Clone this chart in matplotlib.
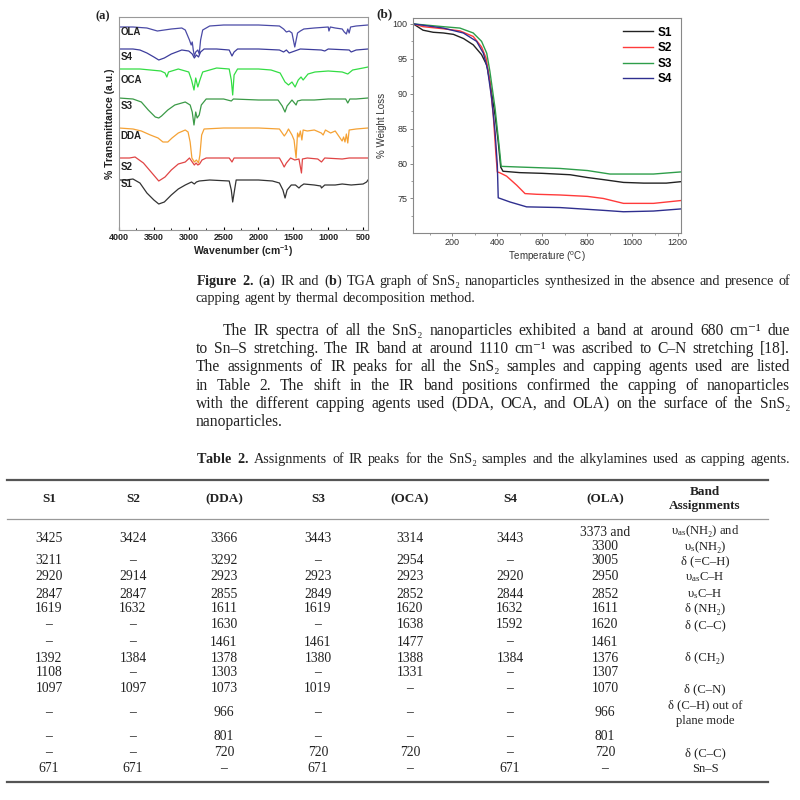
from __future__ import annotations

import matplotlib

matplotlib.use("Agg")
import matplotlib.pyplot as plt
from matplotlib.ticker import MultipleLocator

SERIF = "Liberation Serif"
SANS = "Liberation Sans"
INK = "#222222"

plt.rcParams["mathtext.fontset"] = "custom"
plt.rcParams["mathtext.rm"] = SERIF
plt.rcParams["mathtext.bf"] = SERIF + ":bold"
plt.rcParams["mathtext.it"] = SERIF + ":italic"
plt.rcParams["mathtext.default"] = "regular"

# ---- (a) IR spectra, stacked traces in arbitrary units ----
IR_OLA_WN = [4000, 3800, 3600, 3450, 3350, 3250, 3100, 3050, 3020, 2990, 2965, 2950, 2935, 2920, 2900,
             2870, 2850, 2830, 2800, 2700, 2500, 2000, 1700, 1640, 1600, 1560, 1520, 1500, 1480, 1460,
             1440, 1400, 1350, 1200, 1000, 990, 970, 900, 800, 770, 740, 720, 700, 680, 600, 430]
IR_OLA_T = [203, 203, 202, 199, 200, 201, 202, 200, 195, 190, 185, 188, 180, 174, 178,
            180, 176, 190, 200, 204, 205, 205, 204, 201, 198, 199, 197, 190, 183, 190,
            197, 199, 201, 202, 203, 199, 203, 202, 201, 198, 196, 201, 197, 203, 204, 205]

IR_S4_WN = [4000, 3800, 3700, 3600, 3500, 3430, 3350, 3250, 3100, 3000, 2950, 2920, 2890, 2860, 2830,
            2780, 2600, 2420, 2380, 2350, 2300, 2000, 1700, 1640, 1600, 1560, 1480, 1400, 1100, 1050,
            1000, 700, 671, 600, 430]
IR_S4_T = [181, 181, 180, 177, 173, 170, 172, 176, 180, 179, 176, 172, 175, 173, 178,
           181, 181, 180, 174, 178, 181, 181, 180, 178, 180, 177, 179, 181, 180, 179,
           181, 180, 178, 180, 181]

IR_OCA_WN = [4000, 3700, 3400, 3340, 3314, 3290, 3150, 3000, 2960, 2925, 2900, 2870, 2840, 2800, 2600,
             2420, 2390, 2370, 2350, 2300, 2000, 1820, 1690, 1620, 1570, 1520, 1475, 1430, 1390, 1360,
             1290, 1190, 1000, 800, 720, 650, 500, 430]
IR_OCA_T = [161, 161, 159, 157, 153, 158, 161, 158, 150, 140, 152, 143, 150, 158, 162,
            161, 150, 135, 155, 161, 161, 160, 157, 148, 145, 148, 143, 150, 153, 150,
            156, 158, 159, 158, 156, 160, 162, 163]

IR_S3_WN = [4000, 3800, 3680, 3580, 3480, 3430, 3390, 3300, 3200, 3050, 2980, 2950, 2925, 2900, 2880,
            2850, 2820, 2750, 2500, 2390, 2360, 2000, 1720, 1660, 1620, 1590, 1520, 1461, 1440, 1380,
            1200, 1000, 750, 720, 690, 600, 430]
IR_S3_T = [132, 131, 128, 120, 113, 112, 114, 120, 125, 128, 125, 118, 105, 118, 112,
           115, 125, 131, 131, 129, 131, 130, 130, 124, 118, 124, 130, 125, 129, 130,
           130, 131, 131, 127, 131, 131, 132]

IR_DDA_WN = [4000, 3800, 3680, 3550, 3440, 3370, 3300, 3240, 3150, 3050, 3010, 2980, 2955, 2920, 2890,
             2860, 2840, 2815, 2780, 2500, 2000, 1700, 1670, 1630, 1600, 1570, 1520, 1490, 1461, 1440,
             1420, 1400, 1378, 1360, 1300, 1200, 1100, 1073, 1040, 966, 900, 850, 801, 780, 760,
             740, 720, 700, 600, 430]
IR_DDA_T = [102, 101, 99, 95, 92, 88, 88, 92, 97, 100, 98, 88, 72, 68, 70,
            67, 75, 95, 101, 102, 102, 101, 98, 94, 97, 101, 95, 90, 72, 97,
            93, 99, 90, 100, 99, 100, 97, 95, 100, 97, 99, 94, 89, 93, 88,
            96, 87, 100, 101, 102]

IR_S2_WN = [4000, 3850, 3770, 3650, 3540, 3430, 3340, 3250, 3150, 3050, 2990, 2950, 2920, 2895, 2870,
            2845, 2810, 2750, 2420, 2380, 2350, 2000, 1700, 1660, 1632, 1600, 1540, 1480, 1420, 1384,
            1370, 1300, 1150, 1097, 1050, 800, 700, 430]
IR_S2_T = [72, 72, 73, 67, 58, 49, 53, 60, 66, 68, 72, 68, 65, 67, 65,
           66, 70, 72, 72, 68, 72, 72, 72, 67, 63, 67, 72, 70, 71, 57,
           71, 72, 71, 68, 72, 71, 72, 72]

IR_S1_WN = [4000, 3900, 3800, 3700, 3600, 3500, 3430, 3350, 3250, 3150, 3050, 2960, 2920, 2890, 2850,
            2700, 2420, 2390, 2370, 2350, 2320, 2000, 1800, 1700, 1650, 1619, 1590, 1530, 1470, 1420,
            1392, 1350, 1200, 1108, 1097, 1050, 900, 800, 671, 500, 450, 430]
IR_S1_T = [50, 50, 51, 47, 37, 30, 26, 28, 35, 41, 45, 48, 46, 48, 49,
           50, 49, 40, 28, 37, 50, 50, 49, 47, 40, 32, 40, 45, 45, 42,
           44, 46, 45, 44, 42, 45, 45, 46, 45, 46, 48, 50]

IR_TICKS = [4000, 3500, 3000, 2500, 2000, 1500, 1000, 500]

# ---- (b) TGA curves ----
TGA_S1_T = [27, 70, 115, 160, 205, 250, 293, 330, 353, 367, 390, 404, 415, 425, 500, 600, 723, 800,
            871, 960, 1050, 1150, 1213]
TGA_S1_W = [100, 99.1, 98.8, 98.7, 98.5, 97.9, 97.0, 95.6, 94.1, 91.7, 86.9, 83.1, 79.5, 78.9, 78.7,
            78.6, 78.4, 78.0, 77.7, 77.3, 77.2, 77.2, 77.4]
TGA_S2_T = [27, 70, 160, 234, 293, 330, 350, 367, 382, 394, 400, 410, 441, 486, 523, 575, 678, 800,
            871, 960, 1093, 1213]
TGA_S2_W = [100, 99.6, 99.3, 99.0, 98.2, 96.7, 95.1, 91.7, 86.9, 81.2, 78.8, 78.7, 78.2, 76.9, 75.7,
            75.6, 75.5, 75.3, 75.0, 74.3, 74.3, 74.7]
TGA_S3_T = [27, 160, 234, 293, 330, 353, 367, 390, 409, 417, 500, 678, 800, 900, 1093, 1213]
TGA_S3_W = [100, 99.6, 99.4, 98.7, 97.5, 95.8, 93.2, 87.9, 82.2, 79.6, 79.5, 79.3, 79.0, 78.5, 78.5, 78.8]
TGA_S4_T = [27, 160, 249, 308, 338, 356, 375, 390, 400, 404, 456, 530, 678, 871, 960, 1093, 1213]
TGA_S4_W = [100, 99.4, 98.7, 97.5, 95.8, 93.6, 89.3, 84.5, 79.8, 75.1, 74.5, 73.8, 73.7, 73.3, 73.1,
            73.2, 73.5]

# ---- text of the page ----
CAPTION_LINES = [
    r"$\mathbf{Figure}$ $\mathbf{2.}$ ($\mathbf{a}$) IR and ($\mathbf{b}$) TGA graph of SnS₂ nanoparticles "
    "synthesized in the absence and presence of",
    "capping agent by thermal decomposition method.",
]
PARAGRAPH_LINES = [
    "The IR spectra of all the SnS₂ nanoparticles exhibited a band at around 680 cm⁻¹ due",
    "to Sn–S stretching. The IR band at around 1110 cm⁻¹ was ascribed to C–N stretching [18].",
    "The assignments of IR peaks for all the SnS₂ samples and capping agents used are listed",
    "in Table 2. The shift in the IR band positions confirmed the capping of nanoparticles",
    "with the different capping agents used (DDA, OCA, and OLA) on the surface of the SnS₂",
    "nanoparticles.",
]
TABLE_CAPTION = (r"$\mathbf{Table}$ $\mathbf{2.}$ Assignments of IR peaks for the SnS₂ samples and "
                 "the alkylamines used as capping agents.")

TABLE_HEADERS = ["S1", "S2", "(DDA)", "S3", "(OCA)", "S4", "(OLA)", "Band\nAssignments"]
COL_S1 = ["3425", "3211", "2920", "2847", "1619", "–", "–", "1392", "1108", "1097", "–", "–", "–", "671"]
COL_S2 = ["3424", "–", "2914", "2847", "1632", "–", "–", "1384", "–", "1097", "–", "–", "–", "671"]
COL_DDA = ["3366", "3292", "2923", "2855", "1611", "1630", "1461", "1378", "1303", "1073", "966", "801",
           "720", "–"]
COL_S3 = ["3443", "–", "2923", "2849", "1619", "–", "1461", "1380", "–", "1019", "–", "–", "720", "671"]
COL_OCA = ["3314", "2954", "2923", "2852", "1620", "1638", "1477", "1388", "1331", "–", "–", "–", "720", "–"]
COL_S4 = ["3443", "–", "2920", "2844", "1632", "1592", "–", "1384", "–", "–", "–", "–", "–", "671"]
COL_OLA = ["3373 and\n3300", "3005", "2950", "2852", "1611", "1620", "1461", "1376", "1307", "1070", "966",
           "801", "720", "–"]
COL_BAND = [r"υ$_{as}$(NH₂) and" + "\n" + r"υ$_s$(NH₂)", "δ (=C–H)", r"υ$_{as}$C–H", r"υ$_s$C–H",
            "δ (NH₂)", "δ (C–C)", "", "δ (CH₂)", "", "δ (C–N)", "δ (C–H) out of\nplane mode", "",
            "δ (C–C)", "Sn–S"]

TEXT_FAMILY = [SERIF, "DejaVu Serif"]


def _fy(py: float) -> float:
    return 1 - py / 800


def draw_line(fig, text: str, x0: float, x1: float, py: float, size: float, justify: bool = True) -> None:
    """Pone una linea de texto, justificada entre x0 y x1 (pixeles)."""
    renderer = fig.canvas.get_renderer()
    words = text.split(" ")
    arts = [fig.text(0, _fy(py), w, fontsize=size, family=TEXT_FAMILY, color=INK, va="baseline") for w in words]
    widths = [a.get_window_extent(renderer).width for a in arts]
    gap = size * 100 / 72 * 0.25
    if justify and len(words) > 1:
        gap = (x1 - x0 - sum(widths)) / (len(words) - 1)
    x = x0
    for a, w in zip(arts, widths):
        a.set_x(x / 800)
        x += w + gap


def plot_ir(fig) -> None:
    ax = fig.add_axes([119 / 800, _fy(230), 249 / 800, 213 / 800])
    traces = [
        (IR_OLA_WN, IR_OLA_T, "#4a4aa6"),
        (IR_S4_WN, IR_S4_T, "#3d3d9c"),
        (IR_OCA_WN, IR_OCA_T, "#33dd44"),
        (IR_S3_WN, IR_S3_T, "#3b9a47"),
        (IR_DDA_WN, IR_DDA_T, "#f5a235"),
        (IR_S2_WN, IR_S2_T, "#e04545"),
        (IR_S1_WN, IR_S1_T, "#333333"),
    ]
    for wn, t, color in traces:
        ax.plot(wn, t, color=color, lw=0.9)

    for name, yv in zip(["OLA", "S4", "OCA", "S3", "DDA", "S2", "S1"], [198, 173, 150, 124, 94, 63, 46]):
        ax.text(3975, yv, name, fontsize=7, fontweight="bold", family=SANS, color=INK, va="center")

    ax.set_xlim(4000, 430)
    ax.set_ylim(0, 213)
    ax.set_yticks([])
    ax.set_xticks(IR_TICKS)
    ax.set_xticklabels([str(v) for v in IR_TICKS], fontsize=6.5, fontweight="bold", family=SANS, color=INK)
    ax.xaxis.set_minor_locator(MultipleLocator(250))
    ax.tick_params(axis="x", which="major", direction="in", length=2.5, pad=2)
    ax.tick_params(axis="x", which="minor", direction="in", length=1.5)
    for sp in ax.spines.values():
        sp.set_color("#999999")
        sp.set_linewidth(0.8)
    ax.set_xlabel(r"Wavenumber (cm$^{-1}$)", fontsize=7.5, fontweight="bold", family=SANS, color=INK, labelpad=1)
    ax.set_ylabel("% Transmittance (a.u.)", fontsize=7.5, fontweight="bold", family=SANS, color=INK, labelpad=3)
    fig.text(96 / 800, _fy(19), "(a)", fontsize=9, fontweight="bold", family=SERIF, color=INK)


def plot_tga(fig) -> None:
    ax = fig.add_axes([413.3 / 800, _fy(232.7), 267.4 / 800, 214.4 / 800])
    ax.plot(TGA_S1_T, TGA_S1_W, color="#222222", lw=1.0, label="S1")
    ax.plot(TGA_S2_T, TGA_S2_W, color="#ff3b3b", lw=1.0, label="S2")
    ax.plot(TGA_S3_T, TGA_S3_W, color="#2e9e4a", lw=1.0, label="S3")
    ax.plot(TGA_S4_T, TGA_S4_W, color="#2f2f8f", lw=1.0, label="S4")
    ax.set_xlim(27, 1214)
    ax.set_ylim(70.1, 100.8)
    ax.set_xticks([200, 400, 600, 800, 1000, 1200])
    ax.set_yticks([75, 80, 85, 90, 95, 100])
    ax.xaxis.set_minor_locator(MultipleLocator(100))
    ax.yaxis.set_minor_locator(MultipleLocator(2.5))
    ax.tick_params(which="major", length=2.5, width=0.6, color="#777777", labelsize=6.5, labelcolor="#333333",
                   pad=1.5)
    ax.tick_params(which="minor", length=1.5, width=0.5, color="#777777")
    for lbl in ax.get_xticklabels() + ax.get_yticklabels():
        lbl.set_family(SANS)
    for sp in ax.spines.values():
        sp.set_color("#888888")
        sp.set_linewidth(0.8)
    ax.set_xlabel(r"Temperature ($^{o}$C)", fontsize=7, family=SANS, color="#333333", labelpad=2)
    ax.set_ylabel("% Weight Loss", fontsize=7, family=SANS, color="#333333", labelpad=4)
    ax.legend(loc="upper right", frameon=False, handlelength=2.6, labelspacing=0.3, handletextpad=0.4,
              borderaxespad=0.3, prop={"family": SANS, "weight": "bold", "size": 8.5})
    fig.text(376 / 800, _fy(17), "(b)", fontsize=9.5, fontweight="bold", family=SERIF, color=INK)


def draw_table(fig) -> None:
    x_left, x_right = 7, 768
    col_x = [49, 133, 224, 318, 410, 510, 605, 705]
    row_y = [539, 561, 577, 594, 609, 625, 642, 658, 673, 689, 713, 737, 753, 769]
    columns = [COL_S1, COL_S2, COL_DDA, COL_S3, COL_OCA, COL_S4, COL_OLA, COL_BAND]

    fig.add_artist(plt.Line2D([x_left / 800, x_right / 800], [_fy(480)] * 2, color="#555555", lw=1.6))
    fig.add_artist(plt.Line2D([x_left / 800, x_right / 800], [_fy(519)] * 2, color="#999999", lw=0.9))
    fig.add_artist(plt.Line2D([x_left / 800, x_right / 800], [_fy(782)] * 2, color="#555555", lw=1.6))

    for cx, head in zip(col_x, TABLE_HEADERS):
        fig.text(cx / 800, _fy(499), head, fontsize=9.5, fontweight="bold", family=SERIF, color=INK,
                 ha="center", va="center", linespacing=1.2)

    for j, (cx, col) in enumerate(zip(col_x, columns)):
        last = j == len(columns) - 1
        size = 9.1 if last else 9.8
        step = 15.5 if last else 14
        for cy, cell in zip(row_y, col):
            parts = cell.split("\n")
            off = -step / 2 if len(parts) == 2 else 0
            for k, part in enumerate(parts):
                if part:
                    fig.text(cx / 800, _fy(cy + off + step * k), part, fontsize=size, family=TEXT_FAMILY,
                             color=INK, ha="center", va="center")


def main() -> None:
    fig = plt.figure(figsize=(8, 8), dpi=100)
    fig.patch.set_facecolor("white")
    plot_ir(fig)
    plot_tga(fig)

    draw_line(fig, CAPTION_LINES[0], 196, 790, 285, 10.2)
    draw_line(fig, CAPTION_LINES[1], 196, 790, 302, 10.2, justify=False)

    base = [335, 353, 371, 390, 408, 426]
    for i, (line, py) in enumerate(zip(PARAGRAPH_LINES, base)):
        x0 = 223 if i == 0 else 196
        draw_line(fig, line, x0, 790, py, 11.2, justify=i < len(PARAGRAPH_LINES) - 1)

    draw_line(fig, TABLE_CAPTION, 196, 790, 463, 10.2)
    draw_table(fig)

    fig.savefig("out.png", dpi=100)
    plt.close(fig)


if __name__ == "__main__":
    main()
